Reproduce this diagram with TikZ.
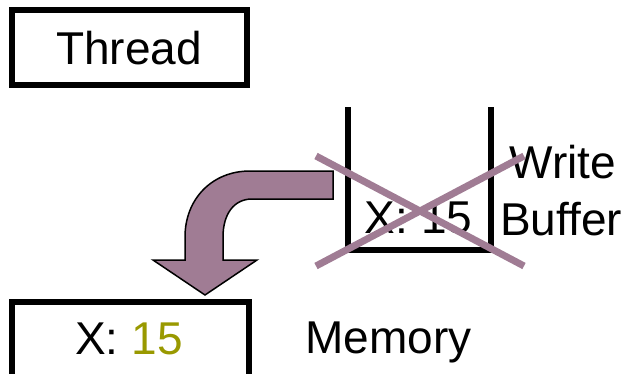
\documentclass[tikz,border=0pt]{standalone}
\usepackage{fontspec}
\setmainfont{Liberation Sans}
\definecolor{mauve}{RGB}{160,124,148}
\definecolor{olive15}{RGB}{153,153,0}
\tikzset{
  boxline/.style={draw=black, line width=6pt},
  lbl/.style={inner sep=0pt, anchor=base, font=\fontsize{46}{57}\selectfont},
  cross/.style={draw=mauve, line width=7pt},
  bentarrow/.style={fill=mauve, draw=black, line width=1.5pt, line join=miter},
}
\begin{document}
\begin{tikzpicture}[x=1pt,y=-1pt]
\useasboundingbox (0,0) rectangle (632,373);
\clip (0,0) rectangle (632,373);
% Thread box
\node[boxline, rectangle, minimum width=235pt, minimum height=75pt, inner sep=0pt] (thread) at (129.5,47.5) {};
\node[lbl] (threadtxt) at (129,64) {Thread};
% Memory box
\node[boxline, rectangle, minimum width=237pt, minimum height=120pt, inner sep=0pt, anchor=north] (mem) at (130.5,299) {};
\node[lbl] (memval) at (129,354) {X: \textcolor{olive15}{15}};
\node[lbl] (memlbl) at (388.5,353) {Memory};
% Write buffer
\coordinate (bl) at (348,107);
\coordinate (br) at (491,107);
\draw[boxline, line join=miter] (bl) -- (348,250) -- (491,250) -- (br);
\node[lbl] (bufval) at (418.5,233) {X: 15};
\node[lbl] (wlbl) at (563,178) {Write};
\node[lbl] (blbl) at (561,235) {Buffer};
% Bent arrow
\path[bentarrow] (333,171) -- (250,171) .. controls (212,171) and (185,199) .. (185,237)
  -- (185,260) -- (153,260) -- (205,295) -- (257,260) -- (223,260) -- (223,237)
  .. controls (223,214) and (234,199) .. (252,199) -- (333,199) -- cycle;
% Cross
\coordinate (c1) at (316,156);
\coordinate (c2) at (524,266);
\coordinate (c3) at (316,266);
\coordinate (c4) at (524,156);
\draw[cross] (c1) -- (c2);
\draw[cross] (c3) -- (c4);
\end{tikzpicture}
\end{document}
